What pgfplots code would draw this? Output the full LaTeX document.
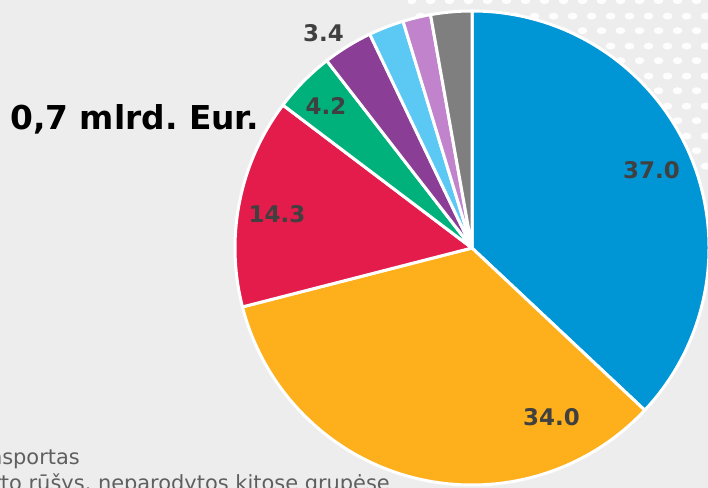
\documentclass[border=0pt]{standalone}
\usepackage{fontspec}
\setmainfont{DejaVu Sans}
\usepackage{pgfplots}
\pgfplotsset{compat=1.18}
\usetikzlibrary{patterns.meta}
\frenchspacing

\definecolor{bg}{HTML}{EDEDED}
\definecolor{pBlue}{HTML}{0096D6}
\definecolor{pOrange}{HTML}{FDB01B}
\definecolor{pRed}{HTML}{E31C4B}
\definecolor{pGreen}{HTML}{00B17C}
\definecolor{pPurple}{HTML}{8B3E96}
\definecolor{pLight}{HTML}{5CC8F4}
\definecolor{pLav}{HTML}{C183CB}
\definecolor{pGray}{HTML}{7F7F7F}
\definecolor{lbl}{HTML}{404040}
\definecolor{legtext}{HTML}{5F5F5F}

\tikzdeclarepattern{
  name=slidedots,
  type=uncolored,
  bottom left={(0,0)},
  top right={(18.5bp,30bp)},
  tile size={(18.5bp,30bp)},
  code={
    \fill (4.6bp,7.5bp) ellipse [x radius=5bp, y radius=3.6bp];
    \fill (13.9bp,22.5bp) ellipse [x radius=5bp, y radius=3.6bp];
  }
}

\begin{document}
\begin{tikzpicture}
\begin{axis}[
  x=1bp, y=1bp,
  xmin=0, xmax=708, ymin=0, ymax=488,
  hide axis,
  clip=true,
]
% slide background
\fill[bg] (axis cs:0,0) rectangle (axis cs:708,488);
\fill[pattern=slidedots, pattern color=white, opacity=0.9]
  (axis cs:708,488) ellipse [x radius=300bp, y radius=175bp];

% pie: share in %, colour; starts at 12 o'clock, clockwise
\gdef\cum{0}
\foreach \v/\c in {37.0/pBlue, 34.0/pOrange, 14.3/pRed, 4.2/pGreen,
                   3.4/pPurple, 2.4/pLight, 1.9/pLav, 2.8/pGray} {
  \pgfmathsetmacro\a{90-3.6*\cum}
  \pgfmathsetmacro\b{90-3.6*(\cum+\v)}
  \edef\temp{\noexpand\filldraw[fill=\c, draw=white, line width=3bp, line join=round]
    (axis cs:472,240) -- ++(\a:237bp) arc[start angle=\a, end angle=\b, radius=237bp] -- cycle;}
  \temp
  \pgfmathsetmacro\tmp{\cum+\v}
  \xdef\cum{\tmp}
}

% value labels
\begin{scope}[every node/.style={font=\fontsize{23}{27}\selectfont\bfseries, text=lbl, inner sep=0pt}]
\node at (axis cs:651.5,317.5) {37.0};
\node at (axis cs:551.5,70.5) {34.0};
\node at (axis cs:277,274) {14.3};
\node at (axis cs:326,382) {4.2};
\node at (axis cs:323.5,454.5) {3.4};
\end{scope}

% total
\node[anchor=base west, inner sep=0pt, font=\fontsize{33}{38}\selectfont\bfseries]
  at (axis cs:10,358) {0,7 mlrd. Eur.};

% legend (cut off by the slide crop)
\begin{scope}[every node/.style={anchor=base east, inner sep=0pt, text=legtext, font=\fontsize{21}{25}\selectfont}]
\node at (axis cs:80,23) {Vandens transportas};
\node at (axis cs:390,-3) {Kitos transporto rūšys, neparodytos kitose grupėse};
\end{scope}
\end{axis}
\pgfresetboundingbox
\path[use as bounding box] (current axis.south west) rectangle (current axis.north east);
\end{tikzpicture}
\end{document}
